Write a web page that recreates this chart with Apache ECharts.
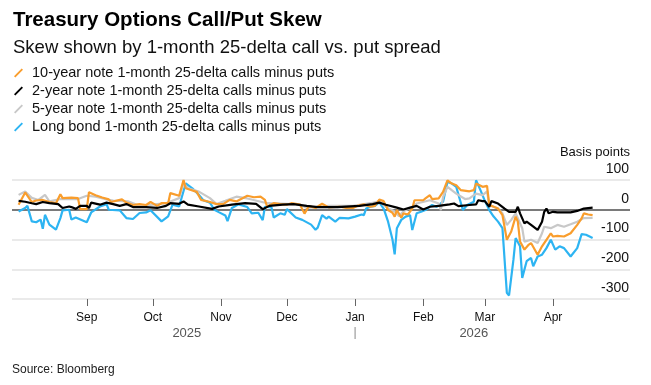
<!DOCTYPE html>
<html>
<head>
<meta charset="utf-8">
<script src="https://cdn.jsdelivr.net/npm/echarts@6/dist/echarts.min.js"></script>
<style>
html,body{margin:0;padding:0;background:#fff;}
#chart{width:651px;height:385px;}
</style>
</head>
<body>
<div id="chart"></div>
<script>
// ---- Data (basis points) ----
const seriesNames = [
  '10-year note 1-month 25-delta calls minus puts',
  '2-year note 1-month 25-delta calls minus puts',
  '5-year note 1-month 25-delta calls minus puts',
  'Long bond 1-month 25-delta calls minus puts'
];
const monthTicks = ['2025-09-01','2025-10-01','2025-11-01','2025-12-01','2026-01-01','2026-02-01','2026-03-01','2026-04-01'];
const monthNames = ['Jan','Feb','Mar','Apr','May','Jun','Jul','Aug','Sep','Oct','Nov','Dec'];
const yearLabels = ['2025','2026'];
const yearBoundary = '2026-01-01';
const axisRange = ['2025-07-29', '2026-05-06'];

const tenYear = [
['2025-08-01',17],['2025-08-04',58],['2025-08-07',26],['2025-08-09',31],['2025-08-12',33],['2025-08-15',26],['2025-08-18',22],['2025-08-20',52],['2025-08-21',39],['2025-08-25',41],['2025-08-28',39],['2025-08-29',2],['2025-09-01',2],['2025-09-02',59],['2025-09-05',49],['2025-09-08',41],['2025-09-11',35],['2025-09-12',26],['2025-09-17',35],['2025-09-19',24],['2025-09-22',16],['2025-09-25',19],['2025-09-28',16],['2025-09-30',26],['2025-10-03',13],['2025-10-05',22],['2025-10-08',22],['2025-10-09',56],['2025-10-13',47],['2025-10-15',100],['2025-10-16',72],['2025-10-18',67],['2025-10-21',60],['2025-10-23',33],['2025-10-27',26],['2025-10-30',19],['2025-11-02',19],['2025-11-05',33],['2025-11-08',28],['2025-11-13',47],['2025-11-16',42],['2025-11-19',44],['2025-11-21',33],['2025-11-22',11],['2025-11-25',22],['2025-11-28',19],['2025-12-01',17],['2025-12-03',22],['2025-12-07',17],['2025-12-09',-13],['2025-12-11',12],['2025-12-14',6],['2025-12-17',20],['2025-12-20',8],['2025-12-25',10],['2025-12-28',6],['2025-12-31',6],['2026-01-02',13],['2026-01-05',18],['2026-01-08',10],['2026-01-10',13],['2026-01-12',34],['2026-01-14',29],['2026-01-16',-1],['2026-01-18',-10],['2026-01-19',-23],['2026-01-20',-1],['2026-01-22',-27],['2026-01-23',-12],['2026-01-25',-16],['2026-01-27',4],['2026-01-28',32],['2026-02-01',32],['2026-02-02',38],['2026-02-04',49],['2026-02-05',36],['2026-02-08',38],['2026-02-10',60],['2026-02-12',99],['2026-02-14',88],['2026-02-16',82],['2026-02-18',66],['2026-02-22',62],['2026-02-24',66],['2026-02-25',88],['2026-02-28',77],['2026-03-02',80],['2026-03-03',16],['2026-03-05',10],['2026-03-07',4],['2026-03-09',-18],['2026-03-11',-101],['2026-03-13',-73],['2026-03-15',-23],['2026-03-16',-40],['2026-03-17',-107],['2026-03-19',-134],['2026-03-21',-117],['2026-03-22',-112],['2026-03-25',-151],['2026-03-27',-123],['2026-03-29',-101],['2026-03-31',-79],['2026-04-01',-90],['2026-04-03',-88],['2026-04-06',-90],['2026-04-09',-79],['2026-04-12',-51],['2026-04-14',-29],['2026-04-15',-12],['2026-04-17',-16],['2026-04-19',-18]
];

const twoYear = [
['2025-08-01',30],['2025-08-04',27],['2025-08-07',22],['2025-08-09',19],['2025-08-12',26],['2025-08-15',22],['2025-08-19',19],['2025-08-21',6],['2025-08-24',11],['2025-08-25',9],['2025-08-27',3],['2025-08-29',13],['2025-09-01',13],['2025-09-02',6],['2025-09-03',24],['2025-09-07',17],['2025-09-10',24],['2025-09-13',19],['2025-09-16',13],['2025-09-19',19],['2025-09-22',9],['2025-09-28',9],['2025-10-03',6],['2025-10-07',13],['2025-10-09',22],['2025-10-13',20],['2025-10-15',28],['2025-10-17',17],['2025-10-22',11],['2025-10-28',3],['2025-10-31',11],['2025-11-06',17],['2025-11-12',22],['2025-11-17',20],['2025-11-20',2],['2025-11-23',13],['2025-11-29',17],['2025-12-04',19],['2025-12-10',13],['2025-12-15',9],['2025-12-24',9],['2026-01-03',13],['2026-01-09',19],['2026-01-12',24],['2026-01-15',17],['2026-01-20',7],['2026-01-23',1],['2026-01-26',7],['2026-01-29',13],['2026-02-01',1],['2026-02-04',10],['2026-02-08',13],['2026-02-13',18],['2026-02-15',21],['2026-02-17',12],['2026-02-22',16],['2026-02-25',18],['2026-02-26',32],['2026-02-28',29],['2026-03-01',29],['2026-03-03',10],['2026-03-04',29],['2026-03-07',21],['2026-03-10',4],['2026-03-12',-7],['2026-03-15',-7],['2026-03-16',10],['2026-03-17',-12],['2026-03-19',-46],['2026-03-20',-40],['2026-03-22',-51],['2026-03-25',-68],['2026-03-27',-40],['2026-03-28',-7],['2026-03-29',4],['2026-03-30',-12],['2026-04-01',-7],['2026-04-03',-9],['2026-04-06',-9],['2026-04-09',-9],['2026-04-12',-4],['2026-04-15',4],['2026-04-19',7]
];

const fiveYear = [
['2025-08-01',50],['2025-08-04',61],['2025-08-07',40],['2025-08-10',33],['2025-08-13',50],['2025-08-15',28],['2025-08-20',36],['2025-08-28',36],['2025-09-01',47],['2025-09-05',44],['2025-09-11',33],['2025-09-13',31],['2025-09-20',28],['2025-09-25',13],['2025-10-01',17],['2025-10-07',22],['2025-10-13',39],['2025-10-15',89],['2025-10-17',72],['2025-10-22',61],['2025-10-27',39],['2025-10-30',19],['2025-11-03',30],['2025-11-08',44],['2025-11-13',38],['2025-11-22',22],['2025-12-07',18],['2025-12-10',6],['2025-12-20',13],['2025-12-31',13],['2026-01-08',22],['2026-01-12',28],['2026-01-16',5],['2026-01-19',-6],['2026-01-21',-22],['2026-01-23',-5],['2026-01-27',10],['2026-01-29',21],['2026-02-04',32],['2026-02-08',21],['2026-02-09',-1],['2026-02-10',43],['2026-02-12',77],['2026-02-16',54],['2026-02-20',36],['2026-02-22',38],['2026-02-25',54],['2026-02-28',49],['2026-03-02',62],['2026-03-03',16],['2026-03-07',4],['2026-03-09',-12],['2026-03-11',-51],['2026-03-13',-34],['2026-03-15',-12],['2026-03-18',-62],['2026-03-19',-107],['2026-03-22',-101],['2026-03-25',-112],['2026-03-27',-79],['2026-03-28',-57],['2026-03-31',-62],['2026-04-03',-51],['2026-04-06',-57],['2026-04-09',-49],['2026-04-12',-40],['2026-04-15',-28],['2026-04-19',-27]
];

const longBond = [
['2025-08-01',-6],['2025-08-04',6],['2025-08-05',13],['2025-08-07',-39],['2025-08-09',-42],['2025-08-11',-33],['2025-08-12',-64],['2025-08-13',-17],['2025-08-15',-50],['2025-08-18',-67],['2025-08-20',-28],['2025-08-21',-2],['2025-08-24',0],['2025-08-25',-33],['2025-08-27',-26],['2025-09-01',-42],['2025-09-03',-9],['2025-09-07',11],['2025-09-10',19],['2025-09-11',0],['2025-09-16',-2],['2025-09-19',-28],['2025-09-22',-31],['2025-09-25',-11],['2025-09-28',-9],['2025-09-30',-2],['2025-10-05',-39],['2025-10-08',-22],['2025-10-10',17],['2025-10-13',11],['2025-10-16',89],['2025-10-19',72],['2025-10-22',50],['2025-10-24',32],['2025-10-27',24],['2025-10-29',0],['2025-10-31',-8],['2025-11-03',-19],['2025-11-04',-38],['2025-11-06',6],['2025-11-09',18],['2025-11-13',9],['2025-11-15',-12],['2025-11-18',-10],['2025-11-20',-35],['2025-11-21',10],['2025-11-24',8],['2025-11-25',-26],['2025-11-28',-12],['2025-11-30',-17],['2025-12-01',2],['2025-12-05',-26],['2025-12-08',-34],['2025-12-12',-50],['2025-12-14',-67],['2025-12-15',-60],['2025-12-17',-18],['2025-12-19',-30],['2025-12-20',-23],['2025-12-23',-40],['2025-12-25',-27],['2025-12-29',-29],['2026-01-01',-23],['2026-01-04',-16],['2026-01-05',-18],['2026-01-06',4],['2026-01-08',10],['2026-01-10',13],['2026-01-12',25],['2026-01-14',4],['2026-01-16',-40],['2026-01-18',-100],['2026-01-19',-150],['2026-01-20',-62],['2026-01-22',-34],['2026-01-24',-23],['2026-01-26',-18],['2026-01-27',-68],['2026-01-29',-12],['2026-01-31',-7],['2026-02-02',-1],['2026-02-05',16],['2026-02-07',10],['2026-02-10',27],['2026-02-12',93],['2026-02-14',88],['2026-02-16',77],['2026-02-19',-1],['2026-02-21',16],['2026-02-24',27],['2026-02-25',99],['2026-02-27',66],['2026-03-01',30],['2026-03-03',-1],['2026-03-05',-23],['2026-03-07',-40],['2026-03-09',-62],['2026-03-11',-279],['2026-03-12',-288],['2026-03-14',-168],['2026-03-15',-95],['2026-03-17',-123],['2026-03-18',-229],['2026-03-20',-173],['2026-03-22',-162],['2026-03-23',-190],['2026-03-25',-157],['2026-03-27',-151],['2026-03-29',-129],['2026-03-31',-101],['2026-04-02',-134],['2026-04-04',-123],['2026-04-06',-129],['2026-04-09',-157],['2026-04-12',-129],['2026-04-14',-82],['2026-04-16',-84],['2026-04-19',-95]
];

const colors = ['#f99d2c', '#000000', '#c8c8c8', '#2db4f2'];
const FONT = '"Liberation Sans", Arial, sans-serif';

const ts = d => Date.UTC(+d.slice(0,4), +d.slice(5,7) - 1, +d.slice(8,10));
const toPts = arr => arr.map(p => [ts(p[0]), p[1]]);

const chart = echarts.init(document.getElementById('chart'), null, {renderer: 'canvas'});
const legendIcon = 'path://M0,8.5 L1.5,10 L10,1.5 L8.5,0 Z';

function lineSeries(name, data, color, z, extra) {
  return Object.assign({
    name: name, type: 'line', data: toPts(data), showSymbol: false, symbol: 'none',
    lineStyle: {color: color, width: 2.2}, itemStyle: {color: color}, z: z,
    silent: true, animation: false
  }, extra || {});
}

const tickValues = monthTicks.map(ts);

const option = {
  animation: false,
  title: [
    {text: 'Treasury Options Call/Put Skew', left: 8, top: 5,
     textStyle: {fontFamily: FONT, fontSize: 20.5, fontWeight: 'bold', color: '#000'}},
    {text: 'Skew shown by 1-month 25-delta call vs. put spread', left: 8, top: 33,
     textStyle: {fontFamily: FONT, fontSize: 18.5, fontWeight: 'normal', color: '#111'}},
    {text: 'Source: Bloomberg', left: 7, top: 359,
     textStyle: {fontFamily: FONT, fontSize: 12, fontWeight: 'normal', color: '#222'}}
  ],
  legend: {
    orient: 'vertical', left: 9, top: 60, itemGap: 2, itemWidth: 9, itemHeight: 10,
    icon: legendIcon, selectedMode: false,
    data: seriesNames,
    textStyle: {fontFamily: FONT, fontSize: 14.5, color: '#111', lineHeight: 16, padding: [0,0,0,4]}
  },
  grid: {left: 12, right: 21, top: 180, bottom: 86, containLabel: false},
  xAxis: {
    type: 'value', min: ts(axisRange[0]), max: ts(axisRange[1]),
    axisLine: {show: false, onZero: false},
    splitLine: {show: false},
    axisTick: {show: true, customValues: tickValues, length: 7, lineStyle: {color: '#666', width: 1}},
    axisLabel: {
      customValues: tickValues,
      formatter: v => monthNames[new Date(v).getUTCMonth()],
      fontFamily: FONT, fontSize: 12, color: '#111', margin: 13
    }
  },
  yAxis: {
    type: 'value', position: 'right', min: -300, max: 100, interval: 100,
    name: 'Basis points', nameLocation: 'end', nameGap: 21,
    nameTextStyle: {fontFamily: FONT, fontSize: 13, color: '#111', align: 'right', verticalAlign: 'bottom'},
    axisLine: {show: false}, axisTick: {show: false},
    axisLabel: {inside: true, margin: 1, verticalAlign: 'bottom', padding: [0,0,4,0],
      fontFamily: FONT, fontSize: 14, color: '#111'},
    splitLine: {show: true, lineStyle: {color: '#e3e3e3', width: 1.5}}
  },
  series: [
    lineSeries(seriesNames[3], longBond, colors[3], 2, {
      markLine: {silent: true, symbol: 'none', label: {show: false},
        lineStyle: {color: '#7a7a7a', width: 2, type: 'solid'},
        data: [{yAxis: 0}], z: 1}
    }),
    lineSeries(seriesNames[2], fiveYear, colors[2], 3),
    lineSeries(seriesNames[0], tenYear, colors[0], 4),
    lineSeries(seriesNames[1], twoYear, colors[1], 5)
  ]
};
chart.setOption(option);

// Year labels centred over each year's data span; boundary marker at Jan 1
const firstDate = tenYear[0][0];
const lastDate = tenYear[tenYear.length - 1][0];
const px = d => chart.convertToPixel({xAxisIndex: 0}, ts(d));
const bx = px(yearBoundary);
const x2025 = (px(firstDate) + bx) / 2;
const x2026 = (bx + px(lastDate)) / 2;
const axisBottom = chart.convertToPixel({yAxisIndex: 0}, -300);
chart.setOption({
  graphic: [
    {type: 'text', x: x2025, y: axisBottom + 34, style: {text: yearLabels[0], fill: '#555', font: '13px ' + FONT, align: 'center', verticalAlign: 'middle'}},
    {type: 'text', x: x2026, y: axisBottom + 34, style: {text: yearLabels[1], fill: '#555', font: '13px ' + FONT, align: 'center', verticalAlign: 'middle'}},
    {type: 'line', shape: {x1: bx, y1: axisBottom + 28, x2: bx, y2: axisBottom + 40}, style: {stroke: '#888', lineWidth: 1}}
  ]
});
</script>
</body>
</html>
